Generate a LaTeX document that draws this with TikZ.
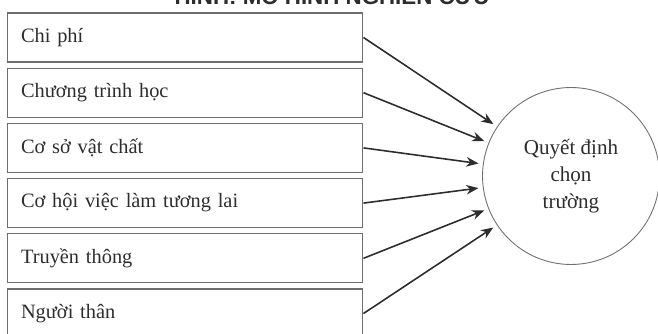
\documentclass[tikz,border=0pt]{standalone}
\usepackage{fontspec}
\setmainfont{Liberation Serif}
\newfontfamily\titlefont{Liberation Sans}
\usetikzlibrary{positioning,arrows.meta}
\definecolor{boxline}{RGB}{110,110,110}
\definecolor{inkdark}{RGB}{45,45,45}

\begin{document}
\begin{tikzpicture}[x=0.02cm,y=-0.02cm,
  every node/.style={text=inkdark},
  factor/.style={draw=boxline,line width=0.6pt,minimum width=7.12cm,minimum height=0.98cm,
    text width=6.56cm,inner xsep=0.28cm,align=left,font=\fontsize{11.6}{14}\selectfont},
  goal/.style={draw=boxline,line width=0.5pt,circle,minimum size=3.54cm,align=center,
    font=\fontsize{12}{15.4}\selectfont},
  link/.style={inkdark,line width=0.9pt,-{Stealth[length=7pt,width=5.5pt]},shorten >=2.5pt}]

\useasboundingbox (0,0) rectangle (658,334);
\clip (0,0) rectangle (658,334);

% title (cut off by the page edge)
\node[anchor=base,font=\titlefont\bfseries\fontsize{12.7}{15}\selectfont] (title) at (332,5)
  {HÌNH: MÔ HÌNH NGHIÊN CỨU};

% factors
\node[factor] (cost)   at (185,37.5)  {Chi phí};
\node[factor] (prog)   at (185,92.7)  {Chương trình học};
\node[factor] (facil)  at (185,147.9) {Cơ sở vật chất};
\node[factor] (job)    at (185,203.1) {Cơ hội việc làm tương lai};
\node[factor] (media)  at (185,258.3) {Truyền thông};
\node[factor] (family) at (185,313.5) {Người thân};

% decision
\node[goal] (choice) at (571,176) {Quyết định\\chọn\\trường};

% arrows
\foreach \f in {cost,prog,facil,job,media,family}
  \draw[link] (\f.east) -- (choice);
\end{tikzpicture}
\end{document}
